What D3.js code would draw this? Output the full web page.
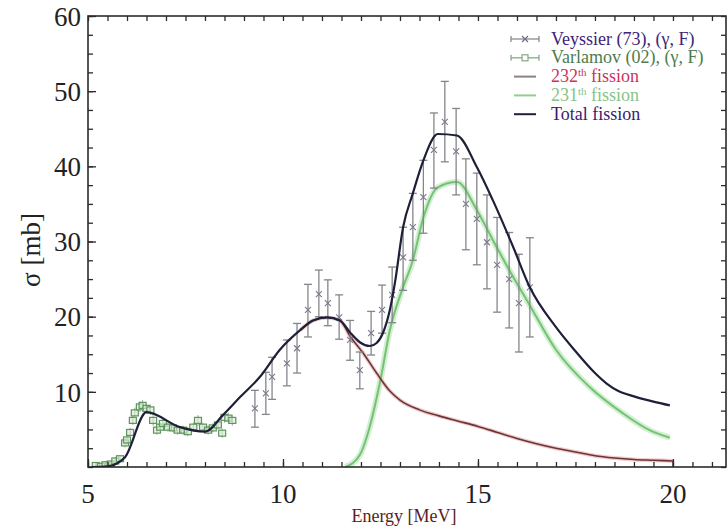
<!DOCTYPE html>
<html>
<head>
<meta charset="utf-8">
<script src="https://cdn.jsdelivr.net/npm/d3@7"></script>
<style>
  body { margin: 0; background: #fff; }
  svg { display: block; font-family: "Liberation Serif", "Times New Roman", serif; }
</style>
</head>
<body>
<div id="chart"></div>
<script>
// total fission curve
var totalE = [5.1, 5.5, 5.75, 5.95, 6.5, 7.36, 8.0, 8.46, 8.9, 9.41, 9.92, 10.44, 10.77, 11.13, 11.46, 11.72, 11.97, 12.23, 12.4, 12.56, 12.74, 12.87, 13.08, 13.33, 13.6, 13.97, 14.46, 14.97, 15.38, 15.9, 16.33, 17.0, 17.5, 18.0, 18.3, 18.6, 19.0, 19.5, 19.92];
var totalS = [0, 0.1, 0.5, 1.3, 7.3, 5.3, 4.7, 6.9, 9.3, 12.0, 15.6, 18.2, 19.5, 19.9, 19.5, 17.9, 16.6, 16.1, 16.5, 17.8, 20.9, 24.5, 31.9, 36.4, 40.8, 44.3, 44.1, 39.9, 35.5, 29.3, 23.9, 18.6, 15.4, 12.5, 11.1, 10.1, 9.4, 8.7, 8.2];

// 232th fission
var e232 = [10.44, 10.77, 11.13, 11.46, 11.72, 12.05, 12.4, 12.74, 13.0, 13.5, 14.0, 14.5, 15.0, 15.5, 16.0, 16.5, 17.0, 17.5, 18.0, 18.5, 19.0, 19.5, 20.0];
var s232 = [18.2, 19.5, 19.9, 19.5, 17.4, 15.2, 12.5, 10.1, 8.9, 7.6, 6.8, 6.1, 5.4, 4.6, 3.8, 3.1, 2.5, 2.0, 1.5, 1.2, 1.0, 0.9, 0.8];

// 231th fission
var e231 = [11.6, 11.97, 12.2, 12.5, 12.74, 13.05, 13.33, 13.6, 13.97, 14.46, 14.97, 15.38, 15.9, 16.33, 17.0, 17.87, 18.7, 19.4, 19.92];
var s231 = [0, 1.6, 4.9, 11.6, 18.2, 23.5, 27.5, 33.2, 37.2, 37.9, 34.2, 30.2, 25.3, 21.5, 15.6, 10.6, 7.2, 4.9, 3.9];

// Veyssier (73) points with error bars
var veyE  = [9.28, 9.56, 9.72, 10.1, 10.36, 10.64, 10.92, 11.15, 11.44, 11.72, 11.97, 12.26, 12.54, 12.8, 13.08, 13.33, 13.6, 13.87, 14.15, 14.44, 14.69, 14.97, 15.23, 15.49, 15.8, 16.05, 16.33];
var veyS  = [7.8, 9.8, 12.0, 13.8, 15.8, 20.9, 23.0, 21.8, 19.9, 16.9, 12.9, 17.8, 20.9, 22.9, 27.9, 31.9, 35.9, 42.2, 45.9, 42.0, 35.0, 33.0, 29.9, 26.9, 25.0, 21.8, 23.9];
var veyLo = [5.3, 7.0, 9.0, 10.8, 12.5, 17.3, 20.0, 18.8, 17.0, 14.2, 10.4, 14.9, 17.8, 19.2, 23.5, 27.5, 31.1, 37.1, 40.6, 36.2, 28.9, 26.9, 23.7, 20.6, 18.5, 15.3, 17.3];
var veyHi = [10.2, 12.6, 14.6, 16.9, 19.1, 24.3, 26.2, 24.9, 22.9, 19.5, 15.3, 20.7, 24.2, 26.6, 31.9, 36.4, 40.8, 47.1, 51.3, 47.7, 41.0, 39.1, 36.2, 33.2, 31.2, 28.3, 30.5];

// Varlamov (02) points
var varE = [5.2, 5.33, 5.45, 5.58, 5.7, 5.82, 5.95, 6.0, 6.08, 6.15, 6.2, 6.33, 6.4, 6.5, 6.6, 6.67, 6.77, 6.85, 6.92, 7.05, 7.18, 7.3, 7.44, 7.56, 7.7, 7.82, 7.95, 8.08, 8.2, 8.33, 8.44, 8.5, 8.6, 8.7];
var varS = [0.2, 0.1, 0.3, 0.4, 0.8, 1.1, 3.2, 3.6, 4.6, 6.2, 7.2, 8.0, 8.2, 7.8, 7.6, 6.2, 4.9, 5.3, 5.8, 5.3, 5.2, 4.9, 4.9, 4.7, 5.3, 6.2, 5.3, 4.9, 5.2, 5.6, 4.5, 6.6, 6.5, 6.2];
var varErr = [0.4, 0.4, 0.4, 0.4, 0.5, 0.5, 0.6, 0.6, 0.6, 0.6, 0.7, 0.7, 0.7, 0.7, 0.7, 0.7, 0.6, 0.6, 0.6, 0.6, 0.6, 0.6, 0.6, 0.6, 0.6, 0.7, 0.6, 0.6, 0.6, 0.6, 0.6, 0.7, 0.7, 0.7];

var xMajor = [5, 10, 15, 20];
var yMajor = [10, 20, 30, 40, 50, 60];

var legendItems = [
  { label: "Veyssier (73), (γ, F)", sup: null, color: "#3f2478", kind: "vey" },
  { label: "Varlamov (02), (γ, F)", sup: null, color: "#4e7c4e", kind: "var" },
  { label: "232", sup: "th", rest: " fission", color: "#cc3358", kind: "l232" },
  { label: "231", sup: "th", rest: " fission", color: "#86c486", kind: "l231" },
  { label: "Total fission", sup: null, color: "#3a1b70", kind: "tot" }
];

var width = 728, height = 526;
var padL = 88, padT = 16, padR = 726, padB = 467;

var svg = d3.select("#chart").append("svg")
  .attr("width", width)
  .attr("height", height);

var x = d3.scaleLinear().domain([5, 21.36]).range([padL, padR]);
var y = d3.scaleLinear().domain([0, 60]).range([padB, padT]);

svg.append("defs").append("clipPath").attr("id", "clip")
  .append("rect").attr("x", padL).attr("y", padT).attr("width", padR - padL).attr("height", padB - padT);

var plot = svg.append("g").attr("clip-path", "url(#clip)");

function pts(es, ss) { return es.map(function(e, i) { return [e, ss[i]]; }); }
var line = d3.line().curve(d3.curveMonotoneX)
  .x(function(d) { return x(d[0]); }).y(function(d) { return y(d[1]); });
var straight = d3.line().x(function(d) { return x(d[0]); }).y(function(d) { return y(d[1]); });

// red curve drops to zero at its last energy
var n232 = e232.length - 1;
var drop232 = [[e232[n232], s232[n232]], [e232[n232], 0]];

// curves (halo first, then line)
plot.append("path").datum(pts(e231, s231)).attr("d", line)
  .attr("fill", "none").attr("stroke", "#d2efd2").attr("stroke-width", 6);
plot.append("path").datum(pts(e232, s232)).attr("d", line)
  .attr("fill", "none").attr("stroke", "#f2cccc").attr("stroke-width", 4);
plot.append("path").datum(pts(e231, s231)).attr("d", line)
  .attr("fill", "none").attr("stroke", "#74c274").attr("stroke-width", 2);
plot.append("path").datum(pts(e232, s232)).attr("d", line)
  .attr("fill", "none").attr("stroke", "#6a3438").attr("stroke-width", 1.6);
plot.append("path").datum(drop232).attr("d", straight)
  .attr("fill", "none").attr("stroke", "#6a3438").attr("stroke-width", 1.4);

// Varlamov squares
var varG = plot.append("g");
varE.forEach(function(e, i) {
  var cx = x(e), cy = y(varS[i]);
  varG.append("line").attr("x1", cx).attr("x2", cx)
    .attr("y1", y(varS[i] - varErr[i])).attr("y2", y(varS[i] + varErr[i]))
    .attr("stroke", "#8bb08b").attr("stroke-width", 1);
  varG.append("rect").attr("x", cx - 3.5).attr("y", cy - 3).attr("width", 7).attr("height", 6)
    .attr("fill", "#d8ead0").attr("fill-opacity", 0.6).attr("stroke", "#5e9460").attr("stroke-width", 1.2);
});

// Veyssier error bars and x markers
var veyG = plot.append("g");
veyE.forEach(function(e, i) {
  var cx = x(e), cy = y(veyS[i]);
  veyG.append("line").attr("x1", cx).attr("x2", cx)
    .attr("y1", y(veyLo[i])).attr("y2", y(veyHi[i]))
    .attr("stroke", "#85858c").attr("stroke-width", 1.3);
  [veyLo[i], veyHi[i]].forEach(function(v) {
    veyG.append("line").attr("x1", cx - 4).attr("x2", cx + 4)
      .attr("y1", y(v)).attr("y2", y(v))
      .attr("stroke", "#85858c").attr("stroke-width", 1.3);
  });
  veyG.append("path")
    .attr("d", "M" + (cx - 3) + "," + (cy - 3) + "L" + (cx + 3) + "," + (cy + 3) +
               "M" + (cx - 3) + "," + (cy + 3) + "L" + (cx + 3) + "," + (cy - 3))
    .attr("stroke", "#7a7a8a").attr("stroke-width", 1.1).attr("fill", "none");
});

// total fission on top
plot.append("path").datum(pts(totalE, totalS)).attr("d", line)
  .attr("fill", "none").attr("stroke", "#1d2038").attr("stroke-width", 2.2)
  .attr("stroke-linejoin", "round");

// frame and ticks
var minorX = d3.range(5, 21.4, 0.5);
var minorY = d3.range(0, 60.01, 2.5);
var axColor = "#2b2b2b";

function tickAxis(gen, scale, vals, size, tx, ty) {
  var g = svg.append("g").attr("transform", "translate(" + tx + "," + ty + ")")
    .call(gen(scale).tickValues(vals).tickSize(size).tickFormat(""));
  g.select(".domain").remove();
  g.selectAll("line").attr("stroke", axColor).attr("stroke-width", 1.3);
  return g;
}
tickAxis(d3.axisBottom, x, minorX, -5, 0, padB);
tickAxis(d3.axisTop, x, minorX, -5, 0, padT);
tickAxis(d3.axisLeft, y, minorY, -5, padL, 0);
tickAxis(d3.axisRight, y, minorY, -5, padR, 0);
tickAxis(d3.axisBottom, x, xMajor, -8, 0, padB);
tickAxis(d3.axisLeft, y, yMajor, -8, padL, 0);

svg.append("rect").attr("x", padL).attr("y", padT)
  .attr("width", padR - padL).attr("height", padB - padT)
  .attr("fill", "none").attr("stroke", axColor).attr("stroke-width", 1.6);

// tick labels
svg.append("g").selectAll("text").data(xMajor).enter().append("text")
  .attr("x", function(d) { return x(d); })
  .attr("y", 503)
  .attr("text-anchor", "middle")
  .attr("font-size", 27).attr("fill", "#222")
  .text(function(d) { return d; });

svg.append("g").selectAll("text").data(yMajor).enter().append("text")
  .attr("x", 81)
  .attr("y", function(d) { return y(d); })
  .attr("dy", "0.36em")
  .attr("text-anchor", "end")
  .attr("font-size", 27).attr("fill", "#222")
  .text(function(d) { return d; });

// axis titles
svg.append("text")
  .attr("x", 404).attr("y", 522)
  .attr("text-anchor", "middle")
  .attr("font-size", 18).attr("fill", "#5a1c1c")
  .text("Energy [MeV]");

svg.append("text")
  .attr("transform", "translate(40,250) rotate(-90)")
  .attr("text-anchor", "middle")
  .attr("font-size", 27).attr("fill", "#222")
  .text("σ [mb]");

// legend
var lg = svg.append("g");
legendItems.forEach(function(it, i) {
  var ly = 39 + i * 18.8;
  var x0 = 511, x1 = 539, xm = (x0 + x1) / 2;
  if (it.kind === "vey" || it.kind === "var") {
    var c = it.kind === "vey" ? "#8a8a92" : "#8aa88a";
    lg.append("line").attr("x1", x0).attr("x2", x1).attr("y1", ly).attr("y2", ly).attr("stroke", c).attr("stroke-width", 1.3);
    [x0, x1].forEach(function(xx) {
      lg.append("line").attr("x1", xx).attr("x2", xx).attr("y1", ly - 3).attr("y2", ly + 3).attr("stroke", c).attr("stroke-width", 1.3);
    });
    if (it.kind === "vey") {
      lg.append("path").attr("d", "M" + (xm - 3) + "," + (ly - 3) + "L" + (xm + 3) + "," + (ly + 3) + "M" + (xm - 3) + "," + (ly + 3) + "L" + (xm + 3) + "," + (ly - 3))
        .attr("stroke", "#6e6e80").attr("stroke-width", 1.2);
    } else {
      lg.append("rect").attr("x", xm - 3).attr("y", ly - 3).attr("width", 6).attr("height", 6)
        .attr("fill", "#fff").attr("stroke", "#7aa07a").attr("stroke-width", 1.1);
    }
  } else {
    var lc = it.kind === "l232" ? "#8a8088" : (it.kind === "l231" ? "#8fd08f" : "#1d2038");
    lg.append("line").attr("x1", x0 + 3).attr("x2", x1 - 3).attr("y1", ly).attr("y2", ly)
      .attr("stroke", lc).attr("stroke-width", 2);
  }
  var t = lg.append("text").attr("x", 551).attr("y", ly + 5.5)
    .attr("font-size", 18).attr("fill", it.color);
  t.append("tspan").text(it.label);
  if (it.sup) {
    t.append("tspan").attr("dy", -6).attr("font-size", 11).text(it.sup);
    t.append("tspan").attr("dy", 6).text(it.rest);
  }
});
</script>
</body>
</html>
